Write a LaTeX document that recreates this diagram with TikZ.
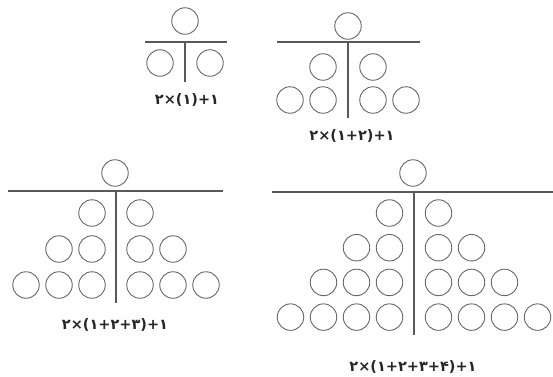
\documentclass[tikz,border=0pt]{standalone}
\usepackage{fontspec}
\newfontfamily\fadigits{DejaVu Sans}
\usetikzlibrary{positioning}

\begin{document}
\begin{tikzpicture}[
      x=1pt, y=-1pt,
      ball/.style={circle, draw=black!60, line width=0.9pt, minimum size=26.5pt, inner sep=0pt},
      bar/.style={draw=black!65, line width=1.8pt},
      stem/.style={draw=black!65, line width=1.3pt},
      sum/.style={font=\fadigits\fontsize{14.5}{16}\selectfont\bfseries, text=black!85}
    ]
    \useasboundingbox (0,0) rectangle (553,376);

    % ============ ONE ROW ============
    \node[ball] (top1) at (185,21) {};
    \draw[bar] (145,42) -- (227,42);
    \draw[stem] (185,42) -- (185,82);
    \node[ball] (c1l11) at (160,63) {};
    \node[ball] (c1r11) at (210,63) {};
    \node[sum] (sum1) at (187,100) {۲×(۱)+۱};

    % ============ TWO ROWS ============
    \node[ball] (top2) at (348,26) {};
    \draw[bar] (277,42) -- (420,42);
    \draw[stem] (348,42) -- (348,118);
    \foreach \r in {1,2}
      \foreach \k in {1,...,\r} {
        \node[ball] (c2l\r\k) at ({348-25-33*(\k-1)},{67+33*(\r-1)}) {};
        \node[ball] (c2r\r\k) at ({348+25+33*(\k-1)},{67+33*(\r-1)}) {};
      }
    \node[sum] (sum2) at (352,136) {۲×(۱+۲)+۱};

    % ============ THREE ROWS ============
    \node[ball] (top3) at (115,173) {};
    \draw[bar] (8,191) -- (223,191);
    \draw[stem] (116,191) -- (116,303);
    \foreach \r in {1,2,3}
      \foreach \k in {1,...,\r} {
        \node[ball] (c3l\r\k) at ({116-24-33*(\k-1)},{213+36*(\r-1)}) {};
        \node[ball] (c3r\r\k) at ({116+24+33*(\k-1)},{213+36*(\r-1)}) {};
      }
    \node[sum] (sum3) at (115,325) {۲×(۱+۲+۳)+۱};

    % ============ FOUR ROWS ============
    \node[ball] (top4) at (413,173) {};
    \draw[bar] (272,192) -- (553,192);
    \draw[stem] (414,192) -- (414,335);
    \foreach \r in {1,2,3,4}
      \foreach \k in {1,...,\r} {
        \node[ball] (c4l\r\k) at ({414-24.5-33*(\k-1)},{213+34.7*(\r-1)}) {};
        \node[ball] (c4r\r\k) at ({414+24.5+33*(\k-1)},{213+34.7*(\r-1)}) {};
      }
    \node[sum] (sum4) at (413,367) {۲×(۱+۲+۳+۴)+۱};

  \end{tikzpicture}
\end{document}
